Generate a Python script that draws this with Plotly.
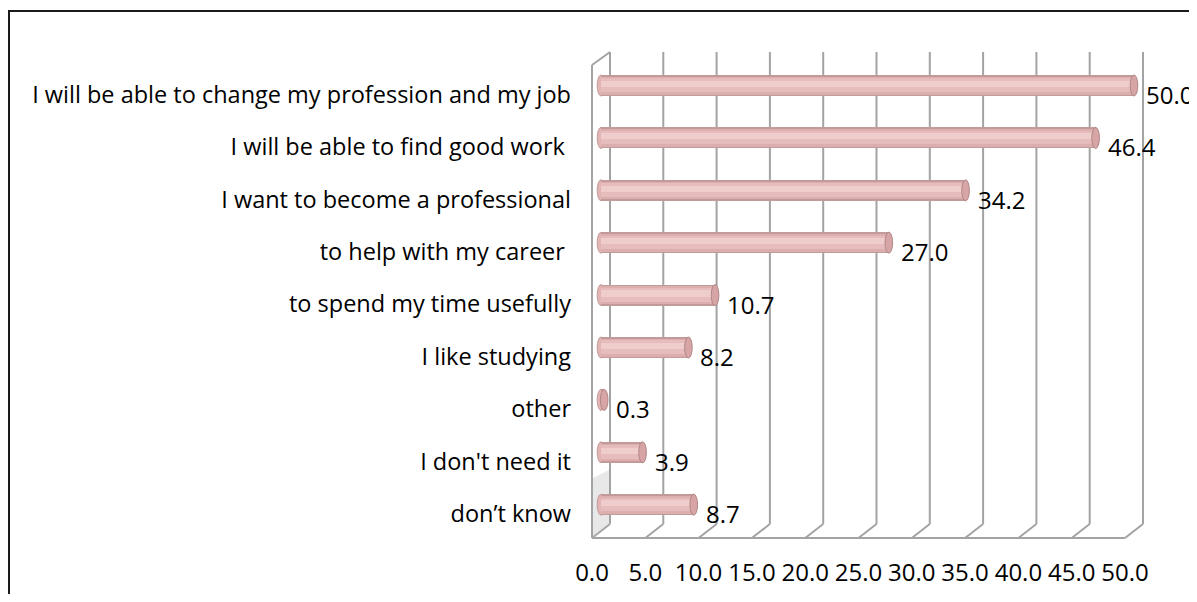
import plotly.graph_objects as go

# ---- data ----
categories = [
    "I will be able to change my profession and my job",
    "I will be able to find good work ",
    "I want to become a professional",
    "to help with my career ",
    "to spend my time usefully",
    "I like studying",
    "other",
    "I don't need it",
    "don\u2019t know",
]
values = [50.0, 46.4, 34.2, 27.0, 10.7, 8.2, 0.3, 3.9, 8.7]
tick_values = [0, 5, 10, 15, 20, 25, 30, 35, 40, 45, 50]
tick_labels = ["0.0", "5.0", "10.0", "15.0", "20.0", "25.0", "30.0", "35.0", "40.0", "45.0", "50.0"]

# ---- geometry (pixels, in page coordinates) ----
BODY = 8                      # default page margin around the figure
W, H = 1197 - BODY, 602 - 2 * BODY
PL, PR, PT, PB = 572, 1177, 30, 556   # plot area in page px
PW, PH = PR - PL, PB - PT
X0PX, PXU = 601.0, 10.66          # mid-depth: value 0 -> px, px per unit
Y0PX, PYU = 94.5, 52.4            # category 0 label row px, px per category
DX, DY = 9.0, 7.0                  # half depth offsets
BACK_TOP, BACK_BOT = 52, 524
FRONT_BOT = BACK_BOT + 2 * DY
FRONT_TOP = 65

def px2paper_x(px):
    return (px - PL) / PW

def px2paper_y(py):
    return 1 - (py - PT) / PH

xr = [(PL - X0PX) / PXU, (PR - X0PX) / PXU]
yr = [(PB - Y0PX) / PYU, (PT - Y0PX) / PYU]

bar_shift = -9 / PYU
bw = 21 / PYU

FONT = "Open Sans"
fs_cat = 23.5
fs = 24

fig = go.Figure()

def add_layer(width, center_off, color):
    fig.add_trace(go.Bar(
        y=categories, x=values, orientation="h",
        width=width, offset=bar_shift + center_off - width / 2,
        marker=dict(color=color, line=dict(width=0)),
        hoverinfo="skip", showlegend=False,
    ))

add_layer(bw, 0, "#c39a9a")
add_layer(bw * 0.84, 0.004, "#dcaeae")
add_layer(bw * 0.64, -0.006, "#e7bcbc")
add_layer(bw * 0.3, -0.03, "#f0cdcd")

shapes = []
g = dict(color="#a3a3a3", width=2)
# back wall gridlines + floor diagonals
for v in tick_values:
    bx = X0PX + v * PXU + DX
    shapes.append(dict(type="line", xref="paper", yref="paper", layer="below",
                       x0=px2paper_x(bx), x1=px2paper_x(bx),
                       y0=px2paper_y(BACK_TOP), y1=px2paper_y(BACK_BOT), line=g))
    shapes.append(dict(type="line", xref="paper", yref="paper", layer="below",
                       x0=px2paper_x(bx), x1=px2paper_x(bx - 2 * DX),
                       y0=px2paper_y(BACK_BOT), y1=px2paper_y(FRONT_BOT), line=g))
# front floor edge
shapes.append(dict(type="line", xref="paper", yref="paper", layer="below",
                   x0=px2paper_x(X0PX - DX), x1=px2paper_x(X0PX + 50 * PXU - DX),
                   y0=px2paper_y(FRONT_BOT), y1=px2paper_y(FRONT_BOT), line=g))
# left wall shading + edges
shapes.append(dict(type="path", xref="paper", yref="paper", layer="below",
                   path="M {} {} L {} {} L {} {} L {} {} Z".format(
                       px2paper_x(X0PX - DX + 1), px2paper_y(478),
                       px2paper_x(X0PX + DX - 1), px2paper_y(470),
                       px2paper_x(X0PX + DX - 1), px2paper_y(BACK_BOT),
                       px2paper_x(X0PX - DX + 1), px2paper_y(FRONT_BOT)),
                   fillcolor="rgba(190,190,190,0.35)", line=dict(width=0)))
shapes.append(dict(type="line", xref="paper", yref="paper", layer="below",
                   x0=px2paper_x(X0PX - DX), x1=px2paper_x(X0PX - DX),
                   y0=px2paper_y(FRONT_TOP), y1=px2paper_y(FRONT_BOT), line=g))
shapes.append(dict(type="line", xref="paper", yref="paper", layer="below",
                   x0=px2paper_x(X0PX - DX), x1=px2paper_x(X0PX + DX),
                   y0=px2paper_y(FRONT_TOP), y1=px2paper_y(BACK_TOP), line=g))

# cylinder caps
capw = 3.8 / PXU
for i, v in enumerate(values):
    yc = i + bar_shift
    shapes.append(dict(type="circle", xref="x", yref="y", layer="below",
                       x0=-capw, x1=capw, y0=yc - bw / 2, y1=yc + bw / 2,
                       fillcolor="#e2b4b4", line=dict(color="#c39a9a", width=1)))
    shapes.append(dict(type="circle", xref="x", yref="y", layer="above",
                       x0=v - capw, x1=v + capw, y0=yc - bw / 2, y1=yc + bw / 2,
                       fillcolor="#d7a5a5", line=dict(color="#b08686", width=1)))

# outer chart border
shapes.append(dict(type="rect", xref="paper", yref="paper", layer="above",
                   x0=px2paper_x(9), x1=px2paper_x(1215),
                   y0=px2paper_y(11), y1=px2paper_y(620),
                   line=dict(color="#1a1a1a", width=2), fillcolor="rgba(0,0,0,0)"))

annotations = []
for c, v in zip(categories, values):
    annotations.append(dict(x=v, y=c, xref="x", yref="y", text=f"{v:.1f}",
                            showarrow=False, xanchor="left", yanchor="middle",
                            xshift=10, font=dict(family=FONT, size=fs, color="#000")))

fig.update_layout(
    width=W, height=H,
    margin=dict(l=PL - BODY, r=W - (PR - BODY), t=PT - BODY, b=H - (PB - BODY)),
    paper_bgcolor="white", plot_bgcolor="rgba(0,0,0,0)",
    barmode="overlay", bargap=0,
    shapes=shapes, annotations=annotations,
    font=dict(family=FONT, size=fs, color="#000"),
    xaxis=dict(range=xr, showgrid=False, zeroline=False, showline=False, automargin=False,
               tickvals=[v - DX / PXU for v in tick_values], ticktext=tick_labels,
               ticks="", tickfont=dict(family=FONT, size=fs, color="#000")),
    yaxis=dict(type="category", categoryorder="array", categoryarray=categories,
               range=yr, showgrid=False, zeroline=False, showline=False, ticks="",
               automargin=False,
               tickfont=dict(family=FONT, size=fs_cat, color="#000")),
)

fig.write_html("out.html")
